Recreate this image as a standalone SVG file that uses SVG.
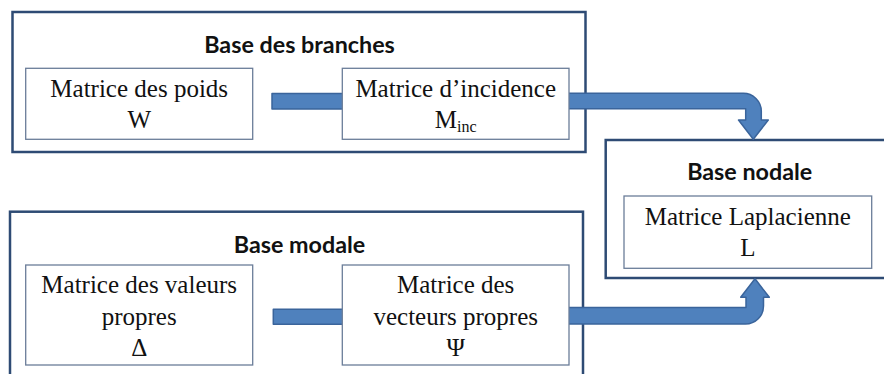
<svg xmlns="http://www.w3.org/2000/svg" width="884" height="374" viewBox="0 0 884 374">
<style>
.outer{fill:#fff;stroke:#2E4B74;stroke-width:2.5}
.inner{fill:#fff;stroke:#6B7D99;stroke-width:1.3}
.title{font-family:"Lato","Liberation Sans",sans-serif;font-weight:bold;font-size:23.3px;fill:#111;text-anchor:middle}
.lbl{font-family:"Liberation Serif","Times New Roman",serif;font-size:25px;fill:#111;text-anchor:middle}
.arrow{fill:#4F81BD;stroke:#3A649B;stroke-width:1.5;stroke-linejoin:round}
</style>
<rect width="884" height="374" fill="#fff"/>
<g id="base-branches">
<rect class="outer" x="12.5" y="12" width="573" height="140"/>
<text class="title" x="299.5" y="53">Base des branches</text>
</g>
<g id="base-nodale">
<rect class="outer" x="605.7" y="140" width="290" height="138"/>
<text class="title" x="749.7" y="179.5">Base nodale</text>
</g>
<g id="base-modale">
<rect class="outer" x="10" y="211.7" width="573" height="180"/>
<text class="title" x="299.5" y="252.7">Base modale</text>
</g>
<g id="connectors">
<rect class="arrow" x="272" y="93.5" width="72" height="15.5"/>
<path class="arrow" d="M565 93.3 H743 A18 18 0 0 1 761.3 111.3 V120 H768.3 L753.3 139.3 L738.5 120 H745.7 V108.8 H565 Z"/>
<rect class="arrow" x="273.3" y="309.3" width="71" height="15"/>
<path class="arrow" d="M565 307.5 H746 V297.3 H740.7 L755 278.8 L769.3 297.3 H763.5 V306 A18 18 0 0 1 745.5 324 H565 Z"/>
</g>
<g id="matrice-poids">
<rect class="inner" x="25.7" y="68.3" width="227" height="71"/>
<text class="lbl" x="139.2" y="97">Matrice des poids</text>
<text class="lbl" x="139.2" y="128">W</text>
</g>
<g id="matrice-incidence">
<rect class="inner" x="342.3" y="68.3" width="226.7" height="71"/>
<text class="lbl" x="455.7" y="97">Matrice d’incidence</text>
<text class="lbl" x="455.7" y="128">M<tspan font-size="16" dy="4">inc</tspan></text>
</g>
<g id="matrice-laplacienne">
<rect class="inner" x="624" y="196" width="247.7" height="72.3"/>
<text class="lbl" x="747.8" y="225">Matrice Laplacienne</text>
<text class="lbl" x="747.8" y="256">L</text>
</g>
<g id="matrice-valeurs-propres">
<rect class="inner" x="25.7" y="265" width="227" height="100"/>
<text class="lbl" x="139.2" y="293">Matrice des valeurs</text>
<text class="lbl" x="139.2" y="324.5">propres</text>
<text class="lbl" x="139.2" y="356">Δ</text>
</g>
<g id="matrice-vecteurs-propres">
<rect class="inner" x="342.3" y="265" width="226.7" height="100"/>
<text class="lbl" x="455.7" y="293">Matrice des</text>
<text class="lbl" x="455.7" y="324.5">vecteurs propres</text>
<text class="lbl" x="455.7" y="356">Ψ</text>
</g>
</svg>
